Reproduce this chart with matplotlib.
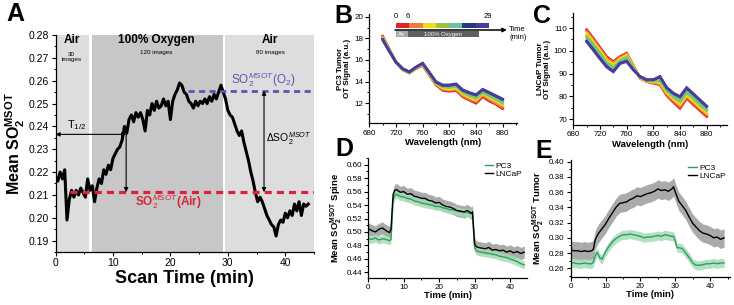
import numpy as np
import matplotlib
matplotlib.use("Agg")
import matplotlib.pyplot as plt
from matplotlib.patches import Rectangle
from matplotlib.ticker import MultipleLocator

plt.rcParams['font.family'] = ['Liberation Sans', 'DejaVu Sans']
plt.rcParams['mathtext.fontset'] = 'custom'
plt.rcParams['mathtext.rm'] = 'Liberation Sans'
plt.rcParams['mathtext.bf'] = 'Liberation Sans:bold'
plt.rcParams['mathtext.it'] = 'Liberation Sans:italic'

# ---------------- data ----------------
# Panel A: mean SO2 vs scan time (sampled every 0.4 min)
a_step = 0.4
a_values = [0.218, 0.216, 0.220, 0.217, 0.221, 0.199, 0.208, 0.212, 0.209, 0.212,
            0.210, 0.213, 0.211, 0.209, 0.217, 0.212, 0.214, 0.207, 0.213, 0.217,
            0.215, 0.221, 0.219, 0.223, 0.221, 0.226, 0.228, 0.230, 0.231, 0.234,
            0.240, 0.237, 0.243, 0.245, 0.242, 0.246, 0.244, 0.246, 0.243, 0.238,
            0.247, 0.245, 0.250, 0.247, 0.251, 0.248, 0.249, 0.252, 0.249, 0.251,
            0.243, 0.251, 0.254, 0.256, 0.259, 0.258, 0.255, 0.254, 0.251, 0.250,
            0.248, 0.251, 0.249, 0.251, 0.250, 0.252, 0.250, 0.253, 0.251, 0.254,
            0.252, 0.255, 0.258, 0.255, 0.252, 0.247, 0.245, 0.244, 0.241, 0.238,
            0.236, 0.238, 0.233, 0.229, 0.225, 0.220, 0.216, 0.211, 0.207, 0.209,
            0.207, 0.204, 0.201, 0.199, 0.197, 0.196, 0.192, 0.197, 0.199, 0.198,
            0.202, 0.200, 0.203, 0.201, 0.206, 0.203, 0.207, 0.201, 0.206, 0.205,
            0.206]
so2_air = 0.2112
so2_o2 = 0.2556
t_half = 12.3
phases = ["Air", "100% Oxygen", "Air"]
phase_images = ["30\nimages", "120 images", "80 images"]
phase_bounds = [(0, 5.8), (6.3, 29.1), (29.5, 45)]

# Panels B, C: spectra at successive time points
wavelengths = [700, 710, 720, 730, 740, 750, 760, 770, 780, 790,
               800, 810, 820, 830, 840, 850, 860, 870, 880]
spec_colors = ['#e52229', '#f07e3a', '#efdc1e', '#9cc43a', '#6cc1a2', '#27387c', '#4b3c9c']
pc3_spectra = [
    [18.2, 17.0, 15.8, 15.1, 14.8, 15.2, 15.5, 14.6, 13.7, 13.2, 13.1, 13.2, 12.6, 12.3, 12.0, 12.6, 12.2, 11.9, 11.5],
    [18.1, 16.95, 15.8, 15.1, 14.8, 15.2, 15.55, 14.65, 13.75, 13.3, 13.2, 13.3, 12.7, 12.4, 12.15, 12.75, 12.35, 12.0, 11.65],
    [18.05, 16.9, 15.8, 15.1, 14.8, 15.25, 15.6, 14.7, 13.8, 13.4, 13.3, 13.4, 12.85, 12.55, 12.3, 12.9, 12.5, 12.2, 11.85],
    [18.0, 16.9, 15.8, 15.15, 14.85, 15.3, 15.65, 14.75, 13.85, 13.5, 13.45, 13.55, 13.0, 12.7, 12.45, 13.0, 12.65, 12.35, 12.0],
    [17.95, 16.85, 15.8, 15.15, 14.85, 15.3, 15.65, 14.8, 13.9, 13.6, 13.55, 13.65, 13.1, 12.8, 12.6, 13.1, 12.8, 12.5, 12.15],
    [17.9, 16.8, 15.8, 15.2, 14.9, 15.35, 15.7, 14.85, 13.95, 13.65, 13.65, 13.75, 13.2, 12.95, 12.75, 13.25, 12.95, 12.65, 12.35],
    [17.85, 16.8, 15.8, 15.2, 14.9, 15.35, 15.7, 14.85, 14.0, 13.7, 13.7, 13.8, 13.25, 13.0, 12.8, 13.3, 13.0, 12.7, 12.4],
]
lncap_spectra = [
    [109.3, 105.5, 101.5, 97.5, 95.3, 97.5, 99.0, 93.5, 88.0, 86.5, 85.8, 85.1, 80.5, 77.5, 74.8, 79.2, 76.5, 73.8, 71.2],
    [108.5, 104.8, 100.8, 96.8, 94.7, 97.0, 98.6, 93.3, 88.1, 86.6, 86.0, 85.5, 81.0, 78.2, 75.6, 79.9, 77.2, 74.5, 72.0],
    [107.6, 104.0, 100.0, 96.0, 93.9, 96.5, 98.1, 93.0, 88.2, 86.8, 86.3, 86.1, 81.7, 79.0, 76.6, 80.7, 78.0, 75.3, 72.8],
    [106.5, 102.9, 99.0, 95.0, 92.9, 95.8, 97.3, 92.6, 88.4, 87.0, 86.7, 86.9, 82.5, 79.8, 77.7, 81.7, 79.0, 76.3, 73.8],
    [105.6, 101.9, 98.1, 94.2, 92.1, 95.2, 96.6, 92.2, 88.5, 87.1, 87.0, 87.6, 83.1, 80.4, 78.6, 82.5, 79.8, 77.1, 74.6],
    [104.3, 100.6, 96.8, 93.2, 91.0, 94.6, 95.5, 91.8, 88.7, 87.3, 87.3, 88.6, 83.8, 81.3, 79.8, 83.7, 81.0, 78.3, 75.6],
    [104.0, 100.3, 96.5, 92.9, 90.8, 94.4, 95.3, 91.6, 88.8, 87.4, 87.4, 88.8, 84.0, 81.5, 80.0, 83.9, 81.2, 78.5, 75.8],
]

# Panel D: spine SO2
d_time = [0, 1, 2, 3, 4, 5, 6, 6.4, 7.0, 7.5, 8, 9, 10, 11, 12, 13, 14, 15, 16, 17, 18, 19, 20,
          21, 22, 23, 24, 25, 26, 27, 28, 29, 29.4, 30.0, 30.5, 31, 32, 33, 34, 35, 36, 37, 38,
          39, 40, 41, 42, 43, 44]
d_lncap = [0.505, 0.502, 0.500, 0.504, 0.506, 0.502, 0.499, 0.504, 0.556, 0.562, 0.563, 0.559,
           0.560, 0.556, 0.557, 0.553, 0.552, 0.550, 0.550, 0.547, 0.546, 0.543, 0.544, 0.540,
           0.538, 0.537, 0.535, 0.532, 0.531, 0.530, 0.532, 0.528, 0.530, 0.482, 0.478, 0.477,
           0.476, 0.475, 0.477, 0.473, 0.474, 0.472, 0.473, 0.470, 0.472, 0.469, 0.471, 0.468, 0.470]
d_pc3 = [0.490, 0.489, 0.491, 0.488, 0.490, 0.489, 0.487, 0.489, 0.548, 0.555, 0.556, 0.553,
         0.552, 0.550, 0.549, 0.546, 0.545, 0.543, 0.542, 0.541, 0.540, 0.538, 0.538, 0.536,
         0.535, 0.533, 0.533, 0.531, 0.530, 0.529, 0.529, 0.527, 0.526, 0.476, 0.472, 0.471,
         0.470, 0.469, 0.468, 0.467, 0.466, 0.464, 0.463, 0.462, 0.460, 0.458, 0.456, 0.453, 0.451]
d_lncap_err = 0.009
d_pc3_err = 0.006

# Panel E: tumor SO2
e_time = [0, 1, 2, 3, 4, 5, 6, 6.5, 7, 7.5, 8, 8.5, 9, 10, 11, 12, 13, 14, 15, 16, 17, 18, 19,
          20, 21, 22, 23, 24, 25, 26, 27, 28, 29, 29.5, 30, 30.5, 31, 32, 33, 34, 35, 36, 37,
          38, 39, 40, 41, 42, 43, 44]
e_lncap = [0.284, 0.283, 0.283, 0.282, 0.283, 0.282, 0.283, 0.285, 0.297, 0.302, 0.306, 0.309,
           0.312, 0.318, 0.326, 0.333, 0.340, 0.345, 0.346, 0.347, 0.350, 0.352, 0.355, 0.354,
           0.356, 0.358, 0.359, 0.361, 0.364, 0.362, 0.363, 0.361, 0.364, 0.367, 0.360, 0.354,
           0.348, 0.342, 0.336, 0.327, 0.319, 0.314, 0.309, 0.306, 0.305, 0.303, 0.300, 0.301,
           0.298, 0.300]
e_pc3 = [0.268, 0.267, 0.266, 0.266, 0.267, 0.266, 0.266, 0.268, 0.276, 0.281, 0.277, 0.273,
         0.272, 0.282, 0.289, 0.295, 0.299, 0.302, 0.304, 0.304, 0.305, 0.304, 0.303, 0.302,
         0.300, 0.301, 0.301, 0.302, 0.303, 0.302, 0.304, 0.303, 0.302, 0.302, 0.296, 0.287,
         0.287, 0.286, 0.280, 0.274, 0.267, 0.264, 0.264, 0.265, 0.266, 0.266, 0.267, 0.266,
         0.267, 0.267]
e_lncap_err = 0.012
e_pc3_err = 0.006

GREEN = '#2f9e5f'
GREEN_BAND = '#a6dbb7'
GRAY_BAND = '#9b9b9b'

# ---------------- figure ----------------
W, H = 734, 305
fig = plt.figure(figsize=(W / 100, H / 100), dpi=100)


def ax_px(l, t, r, b):
    return fig.add_axes([l / W, 1 - b / H, (r - l) / W, (b - t) / H])


def style(ax, lsize):
    for s in ['top', 'right']:
        ax.spines[s].set_visible(False)
    for s in ['left', 'bottom']:
        ax.spines[s].set_linewidth(0.9)
    ax.tick_params(which='major', direction='out', length=3, width=0.8, labelsize=lsize, pad=1.5)
    ax.tick_params(which='minor', direction='out', length=1.6, width=0.7)


# ---- Panel A ----
axA = ax_px(55.5, 35, 314, 252)
a_time = np.arange(len(a_values)) * a_step
shade = ['#dddddd', '#c7c7c7', '#dddddd']
for (x0, x1), c in zip(phase_bounds, shade):
    axA.axvspan(x0, x1, color=c, lw=0, zorder=0)
axA.plot(a_time, a_values, color='k', lw=2.2, zorder=3)
axA.plot([2.5, 45], [so2_air, so2_air], color='#d8233b', lw=2.3, ls=(0, (2.2, 1.6)), zorder=4)
axA.plot([23, 45], [so2_o2, so2_o2], color='#5a56b0', lw=2.0, ls=(0, (2.2, 1.6)), zorder=4)
axA.set_xlim(0, 45)
axA.set_ylim(0.185, 0.28)
style(axA, 7.5)
axA.xaxis.set_major_locator(MultipleLocator(10))
axA.xaxis.set_minor_locator(MultipleLocator(5))
axA.yaxis.set_minor_locator(MultipleLocator(0.005))
axA.set_yticks(np.arange(0.19, 0.2801, 0.01))
axA.set_yticklabels([f"{v:.2f}" for v in np.arange(0.19, 0.2801, 0.01)])
axA.set_xlabel("Scan Time (min)", fontsize=13, fontweight='bold', labelpad=1)
axA.set_ylabel(r"Mean $\mathbf{SO_2^{MSOT}}$", fontsize=11.5, fontweight='bold')
axA.yaxis.set_label_coords(-0.112, 0.5)
centers = [2.8, 17.6, 37.4]
for c, name, imgs in zip(centers, phases, phase_images):
    axA.text(c, 0.2778, name, ha='center', va='center', fontsize=8.5, fontweight='bold')
    axA.text(c, 0.2722 if '\n' not in imgs else 0.2702, imgs, ha='center', va='center',
             fontsize=4.5, linespacing=1.0)
axA.annotate('', xy=(0, 0.2365), xytext=(t_half, 0.2365),
             arrowprops=dict(arrowstyle='<|-|>', lw=0.8, color='k', mutation_scale=6,
                             shrinkA=0, shrinkB=0), zorder=5)
axA.annotate('', xy=(t_half, so2_air), xytext=(t_half, 0.2365),
             arrowprops=dict(arrowstyle='-|>', lw=0.8, color='k', mutation_scale=6,
                             shrinkA=0, shrinkB=0), zorder=5)
axA.annotate('', xy=(36.3, so2_air), xytext=(36.3, so2_o2),
             arrowprops=dict(arrowstyle='<|-|>', lw=0.8, color='k', mutation_scale=6,
                             shrinkA=0, shrinkB=0), zorder=5)
axA.text(3.7, 0.2405, r"T$_{1/2}$", ha='center', va='center', fontsize=8)
axA.text(40.6, 0.2345, r"$\Delta$SO$_2^{MSOT}$", ha='center', va='center', fontsize=7.5)
axA.text(36.2, 0.2603, r"SO$_2^{MSOT}$(O$_2$)", ha='center', va='center', fontsize=8.5,
         color='#5a56b0')
axA.text(19.6, 0.2072, r"SO$_2^{MSOT}$(Air)", ha='center', va='center', fontsize=8.5,
         color='#d8233b', fontweight='bold')

# ---- Panel B ----
axB = ax_px(369.3, 14, 516.7, 123.3)
for vals, c in zip(pc3_spectra, spec_colors):
    axB.plot(wavelengths, vals, color=c, lw=1.9, solid_joinstyle='miter')
axB.set_xlim(680, 901)
axB.set_ylim(10.15, 20.25)
style(axB, 5.8)
axB.xaxis.set_major_locator(MultipleLocator(40))
axB.xaxis.set_minor_locator(MultipleLocator(20))
axB.yaxis.set_minor_locator(MultipleLocator(1))
axB.set_yticks([12, 14, 16, 18, 20])
axB.set_xlabel("Wavelength (nm)", fontsize=6.8, fontweight='bold', labelpad=1)
axB.set_ylabel("PC3 Tumor\nOT Signal (a.u.)", fontsize=5.8, fontweight='bold', labelpad=2,
               linespacing=1.1)

# ---- Panel C ----
axC = ax_px(573.3, 13, 726.7, 125)
for vals, c in zip(lncap_spectra, spec_colors):
    axC.plot(wavelengths, vals, color=c, lw=1.9, solid_joinstyle='miter')
axC.set_xlim(680, 910)
axC.set_ylim(67.5, 116.6)
style(axC, 5.8)
axC.xaxis.set_major_locator(MultipleLocator(40))
axC.xaxis.set_minor_locator(MultipleLocator(20))
axC.yaxis.set_major_locator(MultipleLocator(10))
axC.yaxis.set_minor_locator(MultipleLocator(5))
axC.set_xlabel("Wavelength (nm)", fontsize=6.8, fontweight='bold', labelpad=1)
axC.set_ylabel("LNCaP Tumor\nOT Signal (a.u.)", fontsize=5.8, fontweight='bold', labelpad=2,
               linespacing=1.1)

# ---- Panel D ----
axD = ax_px(368.3, 158, 526.7, 277.7)
dl = np.array(d_lncap)
dp = np.array(d_pc3)
axD.fill_between(d_time, dl - d_lncap_err, dl + d_lncap_err, color=GRAY_BAND, lw=0, alpha=0.85)
axD.fill_between(d_time, dp - d_pc3_err, dp + d_pc3_err, color=GREEN_BAND, lw=0, alpha=0.85)
axD.plot(d_time, d_pc3, color=GREEN, lw=1.0, label='PC3')
axD.plot(d_time, d_lncap, color='k', lw=1.0, label='LNCaP')
axD.set_xlim(0, 44.7)
axD.set_ylim(0.432, 0.61)
style(axD, 5.8)
axD.xaxis.set_major_locator(MultipleLocator(10))
axD.xaxis.set_minor_locator(MultipleLocator(5))
axD.yaxis.set_minor_locator(MultipleLocator(0.01))
axD.set_yticks(np.arange(0.44, 0.6001, 0.02))
axD.set_yticklabels([f"{v:.2f}" for v in np.arange(0.44, 0.6001, 0.02)])
axD.set_xlabel("Time (min)", fontsize=6.8, fontweight='bold', labelpad=0)
axD.set_ylabel(r"Mean $\mathbf{SO_2^{MSOT}}$ Spine", fontsize=6.8, fontweight='bold', labelpad=2)
axD.legend(loc='upper right', frameon=False, fontsize=6, handlelength=1.0,
           handletextpad=0.3, labelspacing=0.05, borderaxespad=0.1)

# ---- Panel E ----
axE = ax_px(570.7, 160, 730, 276.7)
el = np.array(e_lncap)
ep = np.array(e_pc3)
axE.fill_between(e_time, el - e_lncap_err, el + e_lncap_err, color=GRAY_BAND, lw=0, alpha=0.85)
axE.fill_between(e_time, ep - e_pc3_err, ep + e_pc3_err, color=GREEN_BAND, lw=0, alpha=0.85)
axE.plot(e_time, e_pc3, color=GREEN, lw=1.0, label='PC3')
axE.plot(e_time, e_lncap, color='k', lw=1.0, label='LNCaP')
axE.set_xlim(0, 45.7)
axE.set_ylim(0.249, 0.402)
style(axE, 5.8)
axE.xaxis.set_major_locator(MultipleLocator(10))
axE.xaxis.set_minor_locator(MultipleLocator(5))
axE.yaxis.set_minor_locator(MultipleLocator(0.01))
axE.set_yticks(np.arange(0.26, 0.4001, 0.02))
axE.set_yticklabels([f"{v:.2f}" for v in np.arange(0.26, 0.4001, 0.02)])
axE.set_xlabel("Time (min)", fontsize=6.8, fontweight='bold', labelpad=0)
axE.set_ylabel(r"Mean $\mathbf{SO_2^{MSOT}}$ Tumor", fontsize=6.8, fontweight='bold', labelpad=2)
axE.legend(loc='upper right', frameon=False, fontsize=6, handlelength=1.0,
           handletextpad=0.3, labelspacing=0.05, borderaxespad=0.1)

# ---- overlay: panel letters and time colour key ----
ov = fig.add_axes([0, 0, 1, 1], zorder=10)
ov.set_xlim(0, W)
ov.set_ylim(H, 0)
ov.axis('off')
for letter, (x, y) in zip("ABCDE", [(6, 14), (334, 16), (533, 16), (335, 149), (535, 151)]):
    ov.text(x, y, letter, fontsize=18, fontweight='bold', ha='left', va='center')

key_x0, key_x1 = 396, 489
seg = (key_x1 - key_x0) / len(spec_colors)
for i, c in enumerate(spec_colors):
    ov.add_patch(Rectangle((key_x0 + i * seg, 22.7), seg, 5.6, color=c, lw=0))
ov.add_patch(Rectangle((396, 30.7), 11.5, 6.6, color='#a8a8a8', lw=0))
ov.add_patch(Rectangle((407.5, 30.7), 71, 6.6, color='#5f5f5f', lw=0))
ov.text(401.7, 34.2, "Air", color='white', fontsize=4.3, ha='center', va='center')
ov.text(443, 34.2, "100% Oxygen", color='white', fontsize=4.3, ha='center', va='center')
ov.annotate('', xy=(507, 30), xytext=(395, 30),
            arrowprops=dict(arrowstyle='-|>', lw=1.1, color='k', mutation_scale=6,
                            shrinkA=0, shrinkB=0))
ov.text(396, 17, "0", fontsize=5.5, ha='center', va='center')
ov.text(407.5, 17, "6", fontsize=5.5, ha='center', va='center')
ov.text(488, 17, "29", fontsize=5.5, ha='center', va='center')
ov.text(509, 29.5, "Time", fontsize=5.5, ha='left', va='center')
ov.text(510, 37.5, "(min)", fontsize=5.5, ha='left', va='center')

fig.savefig("out.png", dpi=100)
